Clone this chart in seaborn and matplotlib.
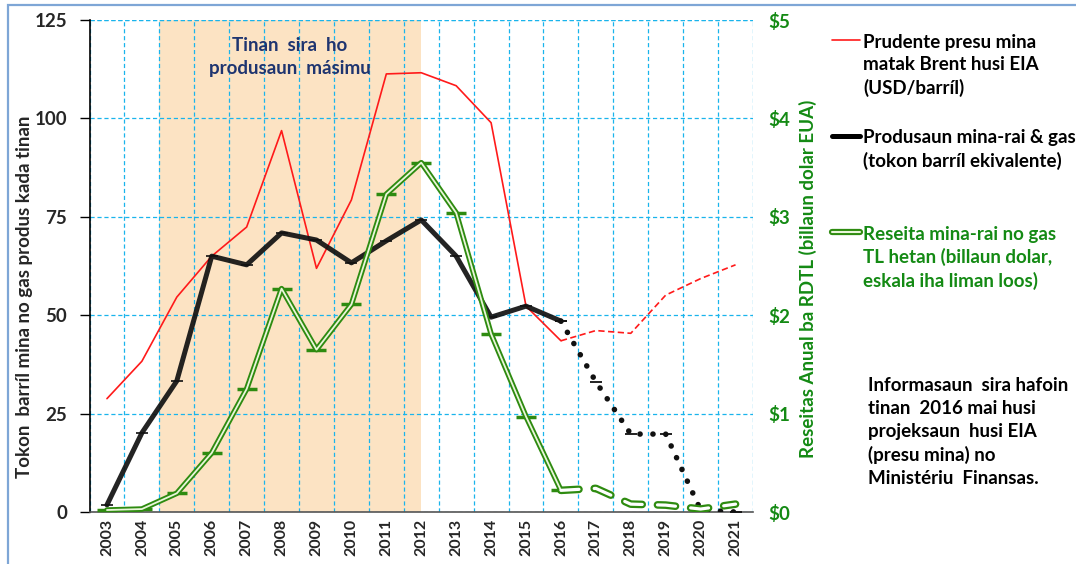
import numpy as np
import pandas as pd
import matplotlib
matplotlib.use("Agg")
import matplotlib.pyplot as plt
import seaborn as sns
from matplotlib.lines import Line2D
from matplotlib.patches import Rectangle

# data
years = list(range(2003, 2022))
hist_years = years[:14]            # 2003-2016
proj_years = years[13:]            # 2016-2021

brent_hist = [28.8, 38.3, 54.6, 65.0, 72.4, 96.9, 61.9, 79.3, 111.3, 111.6, 108.3, 98.9, 52.3, 43.5]
brent_proj = [43.5, 46.1, 45.4, 55.1, 59.3, 62.8]

prod_hist = [1.8, 20.1, 33.3, 65.0, 62.8, 70.9, 69.1, 63.3, 68.9, 74.2, 65.0, 49.5, 52.3, 48.5]
prod_proj = [48.5, 33.1, 19.8, 19.8, 0.5, 0.0]

rev_hist = [0.02, 0.03, 0.19, 0.60, 1.25, 2.27, 1.65, 2.11, 3.23, 3.55, 3.04, 1.81, 0.97, 0.22]
rev_proj = [0.22, 0.24, 0.08, 0.07, 0.03, 0.08]

peak_start, peak_end = 2004.5, 2012

sns.set_style("white")
plt.rcParams['font.family'] = ['Lato', 'DejaVu Sans']
plt.rcParams['font.weight'] = 'bold'
plt.rcParams['lines.scale_dashes'] = False

RED = '#FF1A1A'
GREEN = '#2E8B10'
GTXT = '#148A14'
GRID = '#19B4EC'
FS = 13.5

fig = plt.figure(figsize=(10.76, 5.64), dpi=100)
ax = fig.add_axes([89.5/1076, 1-512/564, (753-89.5)/1076, 492/564])
ax2 = ax.twinx()

ax.axvspan(peak_start, peak_end, color='#FCE3C3', zorder=0, lw=0)

# red: Brent price
sns.lineplot(x=hist_years, y=brent_hist, ax=ax, color=RED, lw=1.2, zorder=3)
sns.lineplot(x=proj_years, y=brent_proj, ax=ax, color=RED, lw=1.2,
             linestyle=(0, (4.5, 2.5)), zorder=3)

# black: production
sns.lineplot(x=hist_years, y=prod_hist, ax=ax, color='#111111', lw=3.6, alpha=0.92,
             marker='_', ms=9, mew=1.3, mec='#111111', zorder=4)
sns.lineplot(x=proj_years, y=prod_proj, ax=ax, color='#111111', lw=4.0,
             linestyle=(0, (0.1, 9.2)), dash_capstyle='round',
             marker='_', ms=9, mew=1.3, mec='#111111', zorder=4)

# green: revenue on right axis, drawn as double line
sns.lineplot(x=hist_years, y=rev_hist, ax=ax2, color=GREEN, lw=4.0,
             marker='_', ms=14, mew=2.5, mec=GREEN, zorder=3)
sns.lineplot(x=hist_years, y=rev_hist, ax=ax2, color='#EAF6DA', lw=1.3, zorder=4)
sns.lineplot(x=proj_years, y=rev_proj, ax=ax2, color=GREEN, lw=5.5,
             linestyle=(0, (13, 11)), dash_capstyle='round', zorder=3)
sns.lineplot(x=proj_years, y=rev_proj, ax=ax2, color='white', lw=2.3,
             linestyle=(0, (13, 11)), dash_capstyle='round', zorder=4)

# axes, grid
ax.set_xlim(2002.5, 2021.5)
ax.set_ylim(0, 125)
ax2.set_ylim(0, 5)
ax.set_yticks([0, 25, 50, 75, 100, 125])
ax.set_xticks(years)
ax.set_xticklabels([str(y) for y in years], rotation=90, fontsize=11.5, fontweight='bold')
ax.set_xticks(np.arange(2002.5, 2022, 1.0), minor=True)
ax.tick_params(axis='x', which='major', length=0, pad=5)
ax.tick_params(axis='x', which='minor', length=7, width=1, color='#555555', direction='out')
ax.tick_params(axis='y', length=7, width=1, color='black', direction='out', labelsize=FS, pad=9)
for lab in ax.get_yticklabels():
    lab.set_fontweight('bold')

ax.grid(False)
ax2.grid(False)
ax.yaxis.grid(True, color=GRID, ls=(0, (3, 2)), lw=0.9)
ax.xaxis.grid(True, which='minor', color=GRID, ls=(0, (3, 2)), lw=0.9)
ax.set_axisbelow(True)

ax2.set_yticks([0, 1, 2, 3, 4, 5])
ax2.set_yticklabels(['$0', '$1', '$2', '$3', '$4', '$5'], color=GTXT, fontsize=FS, fontweight='bold')
ax2.tick_params(axis='y', length=0, pad=11)

for s in ['top', 'right']:
    ax.spines[s].set_visible(False)
    ax2.spines[s].set_visible(False)
ax2.spines['left'].set_visible(False)
ax2.spines['bottom'].set_visible(False)
ax.spines['left'].set_color('black')
ax.spines['left'].set_linewidth(1.2)
ax.spines['bottom'].set_color('#555555')
ax.spines['bottom'].set_linewidth(1.2)
ax.axhline(125, color=GRID, ls=(0, (3, 2)), lw=0.9, zorder=1)

ax.set_ylabel('Tokon  barríl mina no gas produs kada tinan', fontsize=FS, fontweight='bold')
ax.yaxis.set_label_coords(-0.085, 0.437)
ax2.set_ylabel('Reseitas Anual ba RDTL (billaun dolar EUA)', fontsize=FS,
               fontweight='bold', color=GTXT)
ax2.yaxis.set_label_coords(1.069, 0.474)

ax.text(0.302, 0.965, 'Tinan  sira  ho\nprodusaun  másimu', transform=ax.transAxes,
        ha='center', va='top', fontsize=FS, fontweight='bold', color='#1F3570',
        linespacing=1.4)

# legend, one block per entry
h_red = Line2D([], [], color=RED, lw=1.2)
h_blk = Line2D([], [], color='black', lw=3.6)
h_grn = (Line2D([], [], color=GREEN, lw=4.5), Line2D([], [], color='#EAF6DA', lw=1.5))
entries = [
    (h_red, 'Prudente presu mina\nmatak Brent husi EIA\n(USD/barríl)', 'black', 0.940),
    (h_blk, 'Produsaun mina-rai & gas\n(tokon barríl ekivalente)', 'black', 0.771),
    (h_grn, 'Reseita mina-rai no gas\nTL hetan (billaun dolar,\neskala iha liman loos)', GTXT, 0.600),
]
for h, lab, col, ytop in entries:
    leg = fig.legend(handles=[h], labels=[lab], loc='upper left',
                     bbox_to_anchor=(832/1076, ytop), frameon=False,
                     fontsize=FS, handlelength=1.5, handletextpad=0.15,
                     borderpad=0, borderaxespad=0)
    for t in leg.get_texts():
        t.set_color(col)
        t.set_fontweight('bold')
        t.set_linespacing(1.38)
    for vp in leg._legend_handle_box.get_children():
        for c in vp.get_children():
            c.align = 'top'

fig.text(868/1076, 1-377/564,
         'Informasaun  sira hafoin\ntinan  2016 mai husi\nprojeksaun  husi EIA\n(presu mina) no\nMinistériu  Finansas.',
         ha='left', va='top', fontsize=FS, fontweight='bold', color='black', linespacing=1.42)

# outer chart-area border
fig.add_artist(Rectangle((8/1076, -0.05), 1.2, 1.05 - 5/564, transform=fig.transFigure,
                         fill=False, ec='#7EA6D6', lw=1.6))

fig.savefig('out.png', dpi=100)
